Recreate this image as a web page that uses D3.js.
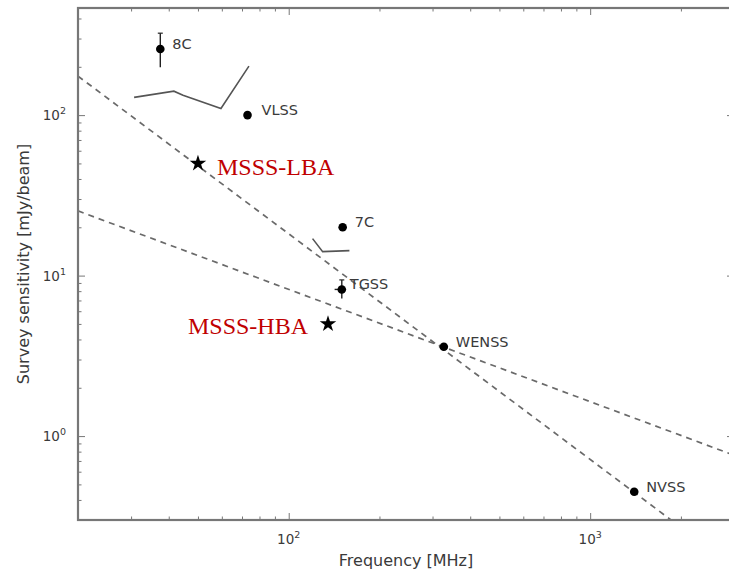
<!DOCTYPE html>
<html>
<head>
<meta charset="utf-8">
<script src="https://cdn.jsdelivr.net/npm/d3@7"></script>
<style>
  body { margin: 0; background: #fff; }
  svg { display: block; }
</style>
</head>
<body>
<svg id="chart" width="729" height="573"></svg>
<script>
// Existing radio surveys: frequency [MHz] and sensitivity [mJy/beam]
const surveyNames = ["8C", "VLSS", "7C", "TGSS", "WENSS", "NVSS"];
const surveyFreq  = [37.5, 73, 151, 150, 327, 1400];
const surveySens  = [258, 100, 20, 8.2, 3.6, 0.45];

// Error bars (sensitivity range, frequency range)
const errNames     = ["8C", "TGSS"];
const errSensRange = [[199, 324], [7.2, 9.4]];
const errFreqRange = [null, [142, 155]];

// MSSS survey bands
const msssNames = ["MSSS-LBA", "MSSS-HBA"];
const msssFreq  = [50, 135];
const msssSens  = [50, 5];

// Solid sensitivity curves
const curveLowFreq = [30.7, 41.6, 44.6, 59.6, 73.8];
const curveLowSens = [129, 141, 133, 110, 202];
const curveMidFreq = [120, 129.6, 159];
const curveMidSens = [17, 14.1, 14.3];

// Dashed power-law guide lines (end points)
const guideSteepFreq = [20, 2000];
const guideSteepSens = [175, 0.27];
const guideFlatFreq  = [20, 3000];
const guideFlatSens  = [25.3, 0.76];

// Axis ticks
const xMajorTicks = [100, 1000];
const xMinorTicks = [20, 30, 40, 50, 60, 70, 80, 90, 200, 300, 400, 500, 600, 700, 800, 900, 2000, 3000];
const yMajorTicks = [1, 10, 100];
const yMinorTicks = [0.3, 0.4, 0.5, 0.6, 0.7, 0.8, 0.9, 2, 3, 4, 5, 6, 7, 8, 9, 20, 30, 40, 50, 60, 70, 80, 90, 200, 300, 400];
const xExponent = {100: "2", 1000: "3"};
const yExponent = {1: "0", 10: "1", 100: "2"};

const xLabel = "Frequency [MHz]";
const yLabel = "Survey sensitivity [mJy/beam]";

// ---- layout ----
const plot = { left: 78, top: 8, right: 734, bottom: 520 };
const svg = d3.select("#chart");

const x = d3.scaleLog().domain([20, 3000]).range([plot.left, plot.right]);
const y = d3.scaleLog().domain([0.3, 465]).range([plot.bottom, plot.top]);

const axisColor = "#777";
const textColor = "#3a3a3a";
const sansFont = "DejaVu Sans, sans-serif";

svg.append("defs").append("clipPath").attr("id", "plotClip")
  .append("rect")
  .attr("x", plot.left).attr("y", plot.top)
  .attr("width", plot.right - plot.left).attr("height", plot.bottom - plot.top);

const inner = svg.append("g").attr("clip-path", "url(#plotClip)");

// dashed guides
const line = d3.line().x(d => x(d[0])).y(d => y(d[1]));
[[guideSteepFreq, guideSteepSens], [guideFlatFreq, guideFlatSens]].forEach(([f, s]) => {
  inner.append("path")
    .datum(f.map((v, i) => [v, s[i]]))
    .attr("d", line)
    .attr("fill", "none")
    .attr("stroke", "#6a6a6a")
    .attr("stroke-width", 1.7)
    .attr("stroke-dasharray", "6,5");
});

// solid curves
[[curveLowFreq, curveLowSens], [curveMidFreq, curveMidSens]].forEach(([f, s]) => {
  inner.append("path")
    .datum(f.map((v, i) => [v, s[i]]))
    .attr("d", line)
    .attr("fill", "none")
    .attr("stroke", "#555")
    .attr("stroke-width", 1.6);
});

// error bars
errNames.forEach((name, i) => {
  const k = surveyNames.indexOf(name);
  const cx = x(surveyFreq[k]), cy = y(surveySens[k]);
  const sr = errSensRange[i];
  inner.append("line")
    .attr("x1", cx).attr("x2", cx)
    .attr("y1", y(sr[0])).attr("y2", y(sr[1]))
    .attr("stroke", "#222").attr("stroke-width", 1.4);
  inner.append("line")
    .attr("x1", cx - 2.5).attr("x2", cx + 2.5)
    .attr("y1", y(sr[1])).attr("y2", y(sr[1]))
    .attr("stroke", "#222").attr("stroke-width", 1.2);
  const fr = errFreqRange[i];
  if (fr) {
    inner.append("line")
      .attr("x1", x(fr[0])).attr("x2", x(fr[1]))
      .attr("y1", cy).attr("y2", cy)
      .attr("stroke", "#222").attr("stroke-width", 1.4);
  }
});

// survey points
inner.selectAll("circle.survey")
  .data(surveyNames)
  .join("circle")
  .attr("class", "survey")
  .attr("cx", (d, i) => x(surveyFreq[i]))
  .attr("cy", (d, i) => y(surveySens[i]))
  .attr("r", 4.3)
  .attr("fill", "#000");

// survey labels
const labelShift = { VLSS: 14, TGSS: 8 };
svg.selectAll("text.survey")
  .data(surveyNames)
  .join("text")
  .attr("class", "survey")
  .attr("x", (d, i) => x(surveyFreq[i]) + (labelShift[d] || 12))
  .attr("y", (d, i) => y(surveySens[i]))
  .attr("font-family", sansFont)
  .attr("font-size", 14.5)
  .attr("fill", textColor)
  .text(d => d);

// MSSS stars
const star = d3.symbol().type(d3.symbolStar).size(85);
inner.selectAll("path.msss")
  .data(msssNames)
  .join("path")
  .attr("class", "msss")
  .attr("d", star)
  .attr("transform", (d, i) => `translate(${x(msssFreq[i])},${y(msssSens[i])})`)
  .attr("fill", "#000");

svg.selectAll("text.msss")
  .data(msssNames)
  .join("text")
  .attr("class", "msss")
  .attr("x", (d, i) => x(msssFreq[i]) + (i === 0 ? 19 : -20))
  .attr("y", (d, i) => y(msssSens[i]) + (i === 0 ? 12 : 10))
  .attr("text-anchor", (d, i) => i === 0 ? "start" : "end")
  .attr("font-family", "Liberation Serif, Times New Roman, serif")
  .attr("font-size", 24)
  .attr("fill", "#c00000")
  .text(d => d);

// ---- axes (ticks point inward on all four sides) ----
function drawTicks(axisGen, transform, size) {
  const g = svg.append("g").attr("transform", transform)
    .call(axisGen.tickSizeInner(size).tickSizeOuter(0).tickFormat(""));
  g.select(".domain").remove();
  g.selectAll(".tick line").attr("stroke", axisColor).attr("stroke-width", 1);
  return g;
}
drawTicks(d3.axisBottom(x).tickValues(xMajorTicks), `translate(0,${plot.bottom})`, -7);
drawTicks(d3.axisBottom(x).tickValues(xMinorTicks), `translate(0,${plot.bottom})`, -3.5);
drawTicks(d3.axisTop(x).tickValues(xMajorTicks), `translate(0,${plot.top})`, -7);
drawTicks(d3.axisTop(x).tickValues(xMinorTicks), `translate(0,${plot.top})`, -3.5);
drawTicks(d3.axisLeft(y).tickValues(yMajorTicks), `translate(${plot.left},0)`, -7);
drawTicks(d3.axisLeft(y).tickValues(yMinorTicks), `translate(${plot.left},0)`, -3.5);
drawTicks(d3.axisRight(y).tickValues(yMajorTicks), `translate(${plot.right},0)`, -7);
drawTicks(d3.axisRight(y).tickValues(yMinorTicks), `translate(${plot.right},0)`, -3.5);

// frame
svg.append("rect")
  .attr("x", plot.left).attr("y", plot.top)
  .attr("width", plot.right - plot.left).attr("height", plot.bottom - plot.top)
  .attr("fill", "none").attr("stroke", axisColor).attr("stroke-width", 2.2);

// tick labels as powers of ten
const xt = svg.append("g").selectAll("text").data(xMajorTicks).join("text")
  .attr("x", d => x(d)).attr("y", plot.bottom + 24)
  .attr("text-anchor", "middle")
  .attr("font-family", sansFont).attr("font-size", 13.5)
  .attr("fill", textColor);
xt.append("tspan").text("10");
xt.append("tspan").attr("dy", -6).attr("font-size", 9.5).text(d => xExponent[d]);

const yt = svg.append("g").selectAll("text").data(yMajorTicks).join("text")
  .attr("x", plot.left - 12).attr("y", d => y(d) + 5)
  .attr("text-anchor", "end")
  .attr("font-family", sansFont).attr("font-size", 13.5)
  .attr("fill", textColor);
yt.append("tspan").text("10");
yt.append("tspan").attr("dy", -6).attr("font-size", 9.5).text(d => yExponent[d]);

// axis titles
svg.append("text")
  .attr("x", (plot.left + plot.right) / 2).attr("y", 566)
  .attr("text-anchor", "middle")
  .attr("font-family", sansFont).attr("font-size", 16)
  .attr("fill", textColor)
  .text(xLabel);

svg.append("text")
  .attr("transform", `translate(29,${(plot.top + plot.bottom) / 2}) rotate(-90)`)
  .attr("text-anchor", "middle")
  .attr("font-family", sansFont).attr("font-size", 16)
  .attr("fill", textColor)
  .text(yLabel);
</script>
</body>
</html>
